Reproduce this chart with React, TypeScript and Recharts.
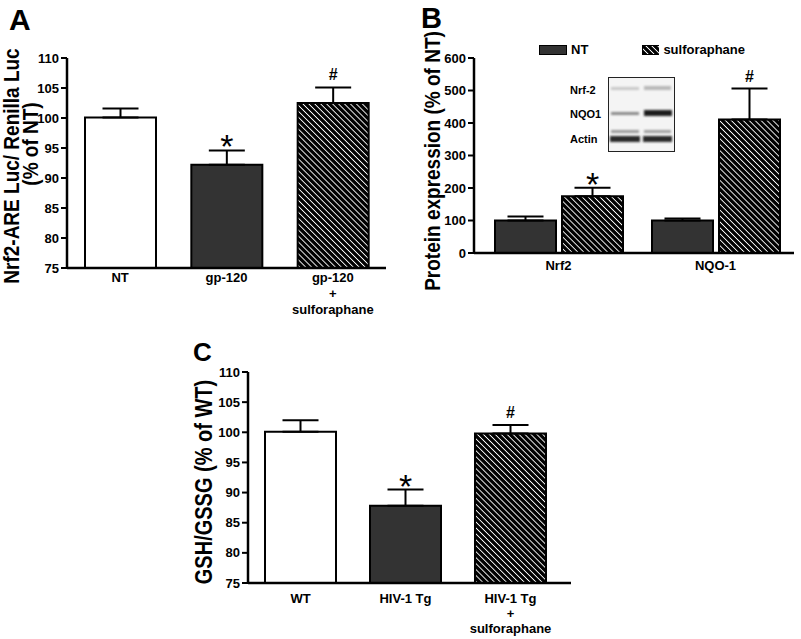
import React from 'react';
import { BarChart, Bar, XAxis, YAxis, ErrorBar, LabelList, Legend, Cell } from 'recharts';

const FONT = '"Liberation Sans", Arial, Helvetica, sans-serif';

// Panel A - Nrf2-ARE luciferase
const aCategories = ['NT', 'gp-120', 'gp-120\n+\nsulforaphane'];
const aValues = [100.1, 92.2, 102.5];
const aErrors = [1.5, 2.4, 2.6];
const aMarks = ['', '*', '#'];
const aTicks = [75, 80, 85, 90, 95, 100, 105, 110];

// Panel B - protein expression
const bCategories = ['Nrf2', 'NQO-1'];
const bNT = [100, 100];
const bNTErr = [12, 6];
const bSulf = [175, 411];
const bSulfErr = [26, 95];
const bMarks = ['*', '#'];
const bTicks = [0, 100, 200, 300, 400, 500, 600];

// Panel C - GSH/GSSG
const cCategories = ['WT', 'HIV-1 Tg', 'HIV-1 Tg\n+\nsulforaphane'];
const cValues = [100.1, 87.8, 99.8];
const cErrors = [1.9, 2.7, 1.4];
const cMarks = ['', '*', '#'];
const cTicks = [75, 80, 85, 90, 95, 100, 105, 110];

const barFills = ['#ffffff', '#333333', 'url(#hatch)'];

const aData = aCategories.map((name, i) => ({ name, value: aValues[i], err: [0, aErrors[i]], errHi: aErrors[i], mark: aMarks[i] }));
const cData = cCategories.map((name, i) => ({ name, value: cValues[i], err: [0, cErrors[i]], errHi: cErrors[i], mark: cMarks[i] }));
const bData = bCategories.map((name, i) => ({
  name,
  nt: bNT[i],
  ntErr: [0, bNTErr[i]],
  sulf: bSulf[i],
  sulfErr: [0, bSulfErr[i]],
  errHi: bSulfErr[i],
  mark: bMarks[i],
}));

const yTick = { fill: '#000', fontSize: 13, fontWeight: 'bold', fontFamily: FONT };

const makeTick = (first: number, step: number) => (props: any) => {
  const { x, y, payload } = props;
  const lines = String(payload.value).split('\n');
  return (
    <text x={x} y={y} textAnchor="middle" fontFamily={FONT} fontWeight="bold" fontSize={13} fill="#000">
      {lines.map((l, i) => (
        <tspan key={i} x={x} dy={i === 0 ? first : step}>{l}</tspan>
      ))}
    </text>
  );
};

// significance marks drawn above the error bar, using the bar's own pixel scale
const makeSig = (rows: any[], valueKey: string, min: number) => (props: any) => {
  const vb = props.viewBox ?? props;
  const { x, y, width, height } = vb;
  const row = rows[props.index];
  if (!row || !row.mark) return null;
  const ppu = height / (row[valueKey] - min);
  const top = y - row.errHi * ppu;
  const cx = x + width / 2;
  if (row.mark === '*') {
    return (
      <text x={cx} y={top + 8} textAnchor="middle" fontFamily={FONT} fontSize={34} fill="#000">*</text>
    );
  }
  return (
    <text x={cx} y={top - 7} textAnchor="middle" fontFamily={FONT} fontWeight="bold" fontSize={16} fill="#000">#</text>
  );
};

const Swatch = ({ fill }: { fill: string }) => (
  <svg width={28} height={10} style={{ display: 'block' }}>
    <rect x={0.5} y={0.5} width={27} height={9} fill={fill} stroke="#000" strokeWidth={1} />
  </svg>
);

const renderLegend = (props: any) => {
  const items = props.payload ?? [];
  return (
    <div style={{ display: 'flex', fontFamily: FONT, fontWeight: 'bold', fontSize: 13 }}>
      {items.map((it: any) => (
        <div key={it.value} style={{ display: 'flex', alignItems: 'center', width: 103 }}>
          <Swatch fill={it.color} />
          <span style={{ marginLeft: 4 }}>{it.value}</span>
        </div>
      ))}
    </div>
  );
};

const axisProps = { stroke: '#000', strokeWidth: 2.5 };

const PanelA = () => (
  <div style={{ position: 'absolute', left: 0, top: 0 }}>
    <BarChart width={400} height={325} data={aData} margin={{ top: 58, right: 14, bottom: 0, left: 0 }} barSize={71}>
      <XAxis dataKey="name" height={57} axisLine={axisProps} tickLine={false} tick={makeTick(6, 16)} interval={0} />
      <YAxis width={67} domain={[75, 110]} ticks={aTicks} allowDataOverflow axisLine={axisProps}
        tickLine={{ stroke: '#000', strokeWidth: 2 }} tickSize={6} tickMargin={2} tick={yTick} />
      <Bar dataKey="value" stroke="#000" strokeWidth={2} isAnimationActive={false}>
        {aData.map((_, i) => <Cell key={i} fill={barFills[i]} />)}
        <ErrorBar dataKey="err" width={18} stroke="#000" strokeWidth={2} direction="y" />
        <LabelList dataKey="mark" content={makeSig(aData, 'value', 75)} />
      </Bar>
    </BarChart>
  </div>
);

const PanelB = () => (
  <div style={{ position: 'absolute', left: 400, top: 0 }}>
    <BarChart width={401} height={320} data={bData} margin={{ top: 58, right: 7, bottom: 0, left: 0 }} barSize={61} barGap={6}>
      <XAxis dataKey="name" height={52} axisLine={axisProps} tickLine={false} tick={makeTick(9, 16)} padding={{ left: 6, right: 0 }} />
      <YAxis width={74} domain={[0, 600]} ticks={bTicks} axisLine={axisProps}
        tickLine={{ stroke: '#000', strokeWidth: 2 }} tickSize={6} tickMargin={2} tick={yTick} />
      <Legend content={renderLegend} wrapperStyle={{ position: 'absolute', top: 42, left: 139, width: 250 }} />
      <Bar dataKey="nt" name="NT" fill="#333333" stroke="#000" strokeWidth={2} isAnimationActive={false}>
        <ErrorBar dataKey="ntErr" width={18} stroke="#000" strokeWidth={2} direction="y" />
      </Bar>
      <Bar dataKey="sulf" name="sulforaphane" fill="url(#hatch)" stroke="#000" strokeWidth={2} isAnimationActive={false}>
        <ErrorBar dataKey="sulfErr" width={18} stroke="#000" strokeWidth={2} direction="y" />
        <LabelList dataKey="mark" content={makeSig(bData, 'sulf', 0)} />
      </Bar>
    </BarChart>
  </div>
);

const PanelC = () => (
  <div style={{ position: 'absolute', left: 180, top: 330 }}>
    <BarChart width={420} height={309} data={cData} margin={{ top: 42, right: 29, bottom: 0, left: 0 }} barSize={71}>
      <XAxis dataKey="name" height={56} axisLine={axisProps} tickLine={false} tick={makeTick(12, 15)} interval={0} padding={{ left: 0, right: 8 }} />
      <YAxis width={68} domain={[75, 110]} ticks={cTicks} allowDataOverflow axisLine={axisProps}
        tickLine={{ stroke: '#000', strokeWidth: 2 }} tickSize={6} tickMargin={2} tick={yTick} />
      <Bar dataKey="value" stroke="#000" strokeWidth={2} isAnimationActive={false}>
        {cData.map((_, i) => <Cell key={i} fill={barFills[i]} />)}
        <ErrorBar dataKey="err" width={18} stroke="#000" strokeWidth={2} direction="y" />
        <LabelList dataKey="mark" content={makeSig(cData, 'value', 75)} />
      </Bar>
    </BarChart>
  </div>
);

const VTitle = ({ x, y, size, children }: any) => (
  <text transform={`translate(${x},${y}) rotate(-90) scale(1,1.15)`} textAnchor="middle" fontFamily={FONT}
    fontWeight="bold" fontSize={size} fill="#000">{children}</text>
);

// panel letters, axis titles and the western blot inset
const Overlay = () => (
  <svg width={801} height={639} style={{ position: 'absolute', left: 0, top: 0, pointerEvents: 'none' }}>
    <defs>
      <filter id="blur" x="-20%" y="-50%" width="140%" height="200%">
        <feGaussianBlur stdDeviation="0.9" />
      </filter>
    </defs>
    <g fontFamily={FONT} fontWeight="bold" fill="#000">
      <text x={9} y={30} fontSize={30}>A</text>
      <text x={421} y={28} fontSize={29}>B</text>
      <text x={193} y={361} fontSize={26}>C</text>
    </g>
    <VTitle x={19} y={166} size={19}>Nrf2-ARE Luc/ Renilla Luc</VTitle>
    <VTitle x={38} y={144} size={19}>(% of NT)</VTitle>
    <VTitle x={440} y={161} size={19}>Protein expression (% of NT)</VTitle>
    <VTitle x={212} y={482} size={20}>GSH/GSSG (% of WT)</VTitle>
    <g fontFamily={FONT} fontWeight="bold" fontSize={11} fill="#000">
      <text x={570} y={94}>Nrf-2</text>
      <text x={570} y={118}>NQO1</text>
      <text x={570} y={143}>Actin</text>
    </g>
    <rect x={608.5} y={77.5} width={66} height={74} fill="#f4f4f4" stroke="#222" strokeWidth={1} />
    <g filter="url(#blur)">
      <rect x={611} y={87} width={28} height={3} fill="#c8c8c8" />
      <rect x={644} y={86} width={27} height={4} fill="#b8b8b8" />
      <rect x={611} y={112} width={28} height={3} fill="#8a8a8a" />
      <rect x={644} y={110} width={28} height={6} fill="#1a1a1a" />
      <rect x={611} y={130} width={28} height={3} fill="#9a9a9a" />
      <rect x={644} y={130} width={27} height={3} fill="#a0a0a0" />
      <rect x={610} y={136} width={30} height={6} fill="#2a2a2a" />
      <rect x={643} y={136} width={29} height={6} fill="#2a2a2a" />
    </g>
  </svg>
);

export default function App() {
  return (
    <div style={{ position: 'absolute', left: 0, top: 0, width: 801, height: 639, background: '#fff' }}>
      <svg width={0} height={0} style={{ position: 'absolute' }}>
        <defs>
          <pattern id="hatch" patternUnits="userSpaceOnUse" width={4.2} height={4.2} patternTransform="rotate(-45)">
            <rect width={4.2} height={4.2} fill="#000" />
            <line x1={2.1} y1={0} x2={2.1} y2={4.2} stroke="#fff" strokeWidth={0.9} />
          </pattern>
        </defs>
      </svg>
      <PanelA />
      <PanelB />
      <PanelC />
      <Overlay />
    </div>
  );
}
